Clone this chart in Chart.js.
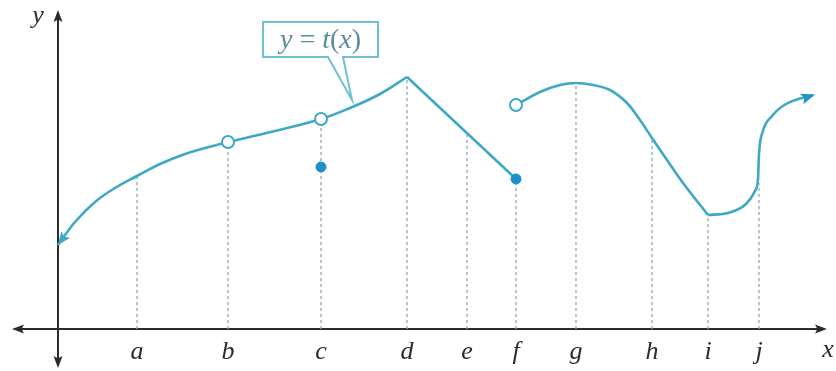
<!DOCTYPE html>
<html>
<head>
<meta charset="utf-8">
<script src="https://cdn.jsdelivr.net/npm/chart.js@4.4.1/dist/chart.umd.min.js"></script>
<style>
  html,body{margin:0;padding:0;background:#fff;}
  #wrap{width:836px;height:371px;}
</style>
</head>
<body>
<div id="wrap"><canvas id="c" width="836" height="371"></canvas></div>
<script>
// ---- data ----
const tickLabels = ['a','b','c','d','e','f','g','h','i','j'];
const tickX      = [7.9, 17.0, 26.3, 34.9, 40.9, 45.8, 51.8, 59.4, 65.0, 70.1];
const guideTop   = [15.3, 18.7, 21.0, 25.2, 19.6, 15.0, 24.6, 19.1, 11.4, 14.6];

// curve pieces
const piece1X = [0, 1.7, 3.7, 5.7, 7.9, 10.2, 12.7, 14.7, 17.0];
const piece1Y = [8.4, 10.7, 12.7, 14.1, 15.3, 16.5, 17.5, 18.1, 18.7];
const piece2X = [17.0, 21.7, 26.3, 29.2, 32.2, 34.9];
const piece2Y = [18.7, 19.8, 21.0, 22.1, 23.5, 25.2];
const piece3X = [34.9, 45.8];
const piece3Y = [25.2, 15.0];
const piece4X = [45.8, 48.2, 50.2, 51.8, 53.5, 55.2, 56.9, 58.2, 59.4, 60.9, 62.5, 65.0];
const piece4Y = [22.4, 23.7, 24.4, 24.6, 24.4, 23.9, 22.6, 20.9, 19.1, 16.9, 14.6, 11.4];
const piece5X = [65.0, 67.0, 68.8, 69.7, 70.0, 70.1, 70.5, 71.4, 72.8, 75.5];
const piece5Y = [11.4, 11.6, 12.5, 13.8, 15.0, 17.5, 19.8, 21.3, 22.5, 23.4];

// open / closed dots
const openX = [17.0, 26.3, 45.8];
const openY = [18.7, 21.0, 22.4];
const filledX = [26.3, 45.8];
const filledY = [16.2, 15.0];

const curveColor = '#3ea8c5';
const zip = (xs, ys) => xs.map((x, i) => ({x, y: ys[i]}));

const datasets = [];
tickX.forEach((x, i) => {
  datasets.push({
    data: [{x, y: 0}, {x, y: guideTop[i]}],
    borderColor: '#8ea9b6', borderWidth: 1.3, borderDash: [3, 3],
    pointRadius: 0, tension: 0, order: 5
  });
});
[[piece1X, piece1Y, 0.4, 'default'], [piece2X, piece2Y, 0.4, 'default'], [piece3X, piece3Y, 0, 'default'],
 [piece4X, piece4Y, 0.4, 'default'], [piece5X, piece5Y, 0.4, 'monotone']]
  .forEach(([xs, ys, t, mode]) => {
    datasets.push({
      data: zip(xs, ys), borderColor: curveColor, borderWidth: 2.6,
      pointRadius: 0, tension: t, cubicInterpolationMode: mode, order: 3
    });
  });
datasets.push({
  data: zip(openX, openY), showLine: false, pointRadius: 6,
  pointBackgroundColor: '#fff', pointBorderColor: curveColor, pointBorderWidth: 2, order: 1
});
datasets.push({
  data: zip(filledX, filledY), showLine: false, pointRadius: 5,
  pointBackgroundColor: '#1b8fc6', pointBorderColor: '#1b8fc6', pointBorderWidth: 1, order: 1
});

function arrow(ctx, x, y, ang, len, wid, color) {
  ctx.save();
  ctx.translate(x, y); ctx.rotate(ang);
  ctx.beginPath();
  ctx.moveTo(0, 0); ctx.lineTo(-len, -wid / 2); ctx.lineTo(-len * 0.8, 0); ctx.lineTo(-len, wid / 2);
  ctx.closePath();
  ctx.fillStyle = color; ctx.fill();
  ctx.restore();
}

const drawPlugin = {
  id: 'mathAxes',
  beforeDatasetsDraw(chart) {
    const ctx = chart.ctx, xs = chart.scales.x, ys = chart.scales.y;
    const x0 = xs.getPixelForValue(0), y0 = ys.getPixelForValue(0);
    const xl = xs.getPixelForValue(-4.6), xr = xs.getPixelForValue(76.9);
    const yt = ys.getPixelForValue(31.9), yb = ys.getPixelForValue(-3.9);
    ctx.save();
    ctx.strokeStyle = '#2b2b2b'; ctx.lineWidth = 2;
    ctx.beginPath();
    ctx.moveTo(xl + 6, y0); ctx.lineTo(xr - 6, y0);
    ctx.moveTo(x0, yt + 6); ctx.lineTo(x0, yb - 6);
    ctx.stroke();
    arrow(ctx, xr, y0, 0, 12, 9, '#2b2b2b');
    arrow(ctx, xl, y0, Math.PI, 12, 9, '#2b2b2b');
    arrow(ctx, x0, yt, -Math.PI / 2, 12, 9, '#2b2b2b');
    arrow(ctx, x0, yb, Math.PI / 2, 12, 9, '#2b2b2b');
    // tick labels
    ctx.fillStyle = '#2b2b2b';
    ctx.font = 'italic 26px "Liberation Serif", "DejaVu Serif", serif';
    ctx.textAlign = 'center'; ctx.textBaseline = 'alphabetic';
    tickLabels.forEach((lab, i) => {
      ctx.fillText(lab, xs.getPixelForValue(tickX[i]), y0 + 30);
    });
    ctx.fillText('x', xs.getPixelForValue(77.0), y0 + 28);
    ctx.fillText('y', xs.getPixelForValue(-2.0), ys.getPixelForValue(30.6));
    ctx.restore();
  },
  afterDatasetsDraw(chart) {
    const ctx = chart.ctx, xs = chart.scales.x, ys = chart.scales.y;
    // curve end arrows
    const p1 = chart.getDatasetMeta(10).data, p5 = chart.getDatasetMeta(14).data;
    const a0 = p1[0], a1 = p1[1];
    arrow(ctx, a0.x, a0.y, Math.atan2(a0.y - a1.y, a0.x - a1.x), 13, 11, curveColor);
    const b0 = p5[p5.length - 1], b1 = p5[p5.length - 2];
    arrow(ctx, b0.x + 2, b0.y - 0.5, Math.atan2(b0.y - b1.y, b0.x - b1.x), 14, 11, '#1f95c9');

    // callout box
    const bx1 = xs.getPixelForValue(20.5), bx2 = xs.getPixelForValue(32.0);
    const by1 = ys.getPixelForValue(30.7), by2 = ys.getPixelForValue(27.2);
    const px1 = xs.getPixelForValue(27.0), px2 = xs.getPixelForValue(28.5);
    const tx = xs.getPixelForValue(29.4), ty = ys.getPixelForValue(22.9);
    ctx.save();
    ctx.strokeStyle = '#6ec2cf'; ctx.lineWidth = 2; ctx.fillStyle = '#fff';
    ctx.beginPath();
    ctx.moveTo(bx1, by1); ctx.lineTo(bx2, by1); ctx.lineTo(bx2, by2);
    ctx.lineTo(px2, by2); ctx.lineTo(tx, ty); ctx.lineTo(px1, by2);
    ctx.lineTo(bx1, by2); ctx.closePath();
    ctx.fill(); ctx.stroke();
    // text y = t(x)
    const parts = [['y', true], [' = ', false], ['t', true], ['(', false], ['x', true], [')', false]];
    const fontI = 'italic 28px "Liberation Serif", "DejaVu Serif", serif';
    const fontR = '28px "Liberation Serif", "DejaVu Serif", serif';
    let total = 0;
    parts.forEach(([s, it]) => { ctx.font = it ? fontI : fontR; total += ctx.measureText(s).width; });
    let cx = (bx1 + bx2) / 2 - total / 2;
    ctx.fillStyle = '#568e9c'; ctx.textBaseline = 'middle'; ctx.textAlign = 'left';
    const cy = (by1 + by2) / 2 + 1;
    parts.forEach(([s, it]) => {
      ctx.font = it ? fontI : fontR; ctx.fillText(s, cx, cy); cx += ctx.measureText(s).width;
    });
    ctx.restore();
  }
};

new Chart(document.getElementById('c'), {
  type: 'line',
  data: { datasets },
  options: {
    responsive: false, animation: false,
    layout: { padding: 0, autoPadding: false },
    plugins: { legend: { display: false }, tooltip: { enabled: false } },
    scales: {
      x: { type: 'linear', min: -5.8, max: 77.8, display: false },
      y: { type: 'linear', min: -4.2, max: 32.9, display: false }
    }
  },
  plugins: [drawPlugin]
});
</script>
</body>
</html>
